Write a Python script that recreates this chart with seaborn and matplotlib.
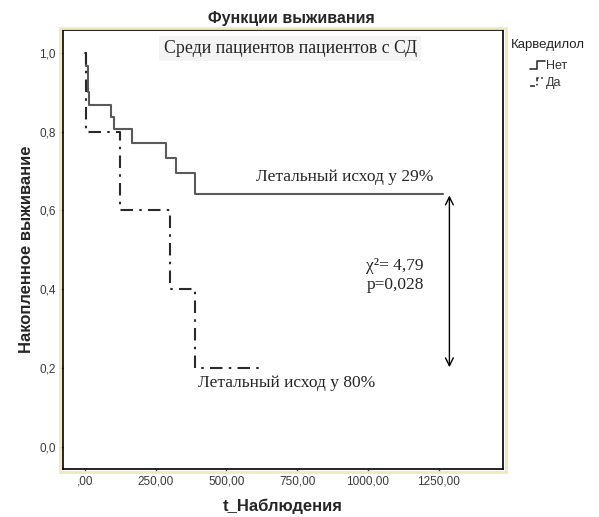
import matplotlib
matplotlib.use("Agg")
import matplotlib.pyplot as plt
import matplotlib.patches as mpatches
from matplotlib.lines import Line2D
from matplotlib.legend_handler import HandlerBase
import seaborn as sns
import pandas as pd

# Data
groups = ["Нет", "Да"]
t_net = [0, 4, 9, 14, 92, 103, 166, 286, 322, 389, 1266]
s_net = [1.0, 0.967, 0.90, 0.867, 0.838, 0.806, 0.772, 0.734, 0.694, 0.643, 0.643]
t_da = [0, 5, 124, 300, 389, 636]
s_da = [1.0, 0.8, 0.6, 0.4, 0.2, 0.2]
x_ticks = [0, 250, 500, 750, 1000, 1250]
x_labels = [",00", "250,00", "500,00", "750,00", "1000,00", "1250,00"]
y_ticks = [0.0, 0.2, 0.4, 0.6, 0.8, 1.0]
y_labels = ["0,0", "0,2", "0,4", "0,6", "0,8", "1,0"]

df = pd.DataFrame({
    "t": t_net + t_da,
    "s": s_net + s_da,
    "g": [groups[0]] * len(t_net) + [groups[1]] * len(t_da),
})

sns.set_theme(style="white")
plt.rcParams["font.family"] = ["Liberation Sans", "DejaVu Sans"]

fig = plt.figure(figsize=(5.99, 5.17), dpi=100)
fig.patch.set_facecolor("white")
ax = fig.add_axes([0.105, 0.093, 0.735, 0.849])

# pale yellow outer frame
fig.patches.append(mpatches.Rectangle((0.101, 0.088), 0.743, 0.858, transform=fig.transFigure,
                                      fill=False, edgecolor="#f1e8bd", linewidth=2, zorder=0))

sns.lineplot(data=df, x="t", y="s", hue="g", style="g", estimator=None,
             palette={"Нет": "#5a5a5a", "Да": "#2a2a2a"},
             dashes={"Нет": "", "Да": (6, 3, 1.2, 3)},
             drawstyle="steps-post", linewidth=1.5, legend=False, ax=ax)

ax.set_xlim(-78, 1478)
ax.set_ylim(-0.056, 1.058)
ax.set_xticks(x_ticks)
ax.set_xticklabels(x_labels, fontsize=8.5, color="#3a3a3a")
ax.set_yticks(y_ticks)
ax.set_yticklabels(y_labels, fontsize=8.5, color="#3a3a3a")
ax.tick_params(axis="both", direction="out", length=3, width=1, color="#444444", pad=2,
               bottom=True, left=True)
for sp in ax.spines.values():
    sp.set_color("black")
    sp.set_linewidth(1.2)

ax.set_xlabel("t_Наблюдения", fontsize=12, fontweight="bold", labelpad=8)
ax.set_ylabel("Накопленное выживание", fontsize=12, fontweight="bold", labelpad=4)
fig.text(0.486, 0.965, "Функции выживания", fontsize=11.5, fontweight="bold",
         ha="center", va="center")

serif = ["Liberation Serif", "DejaVu Serif"]
ax.text(725, 1.010, "Среди пациентов пациентов с СД", family=serif, fontsize=12.8,
        ha="center", va="center",
        bbox=dict(facecolor="#f4f4f4", edgecolor="none", pad=3))
ax.text(918, 0.686, "Летальный исход у 29%", family=serif, fontsize=12.5,
        ha="center", va="center")
ax.text(711, 0.162, "Летальный исход у 80%", family=serif, fontsize=12.5,
        ha="center", va="center")
ax.text(1096, 0.435, "χ²= 4,79\np=0,028", family=serif, fontsize=12.5,
        ha="center", va="center", linespacing=1.25)

ax.annotate("", xy=(1288, 0.645), xytext=(1288, 0.195),
            arrowprops=dict(arrowstyle="<->", color="black", lw=1, mutation_scale=14))


class StepHandler(HandlerBase):
    def __init__(self, dashes=None, color="black"):
        super().__init__()
        self.dashes = dashes
        self.color = color

    def create_artists(self, legend, orig_handle, xdescent, ydescent, width, height, fontsize, trans):
        xs = [0, width * 0.5, width * 0.5, width]
        ys = [0, 0, height, height]
        ln = Line2D(xs, ys, color=self.color, lw=1.2, transform=trans)
        if self.dashes:
            ln.set_dashes(self.dashes)
        return [ln]


fig.text(0.853, 0.913, "Карведилол", fontsize=9.5, color="#222222", ha="left", va="center")
h_net = Line2D([], [], color="#333333")
h_da = Line2D([], [], color="#333333")
leg = fig.legend([h_net, h_da], groups, loc="upper left",
                 bbox_to_anchor=(0.872, 0.898), frameon=False, fontsize=9,
                 handlelength=1.2, handleheight=0.6, handletextpad=0.1,
                 labelspacing=0.4, borderpad=0.1,
                 handler_map={h_net: StepHandler(color="#333333"),
                              h_da: StepHandler(dashes=(3, 1.5, 1, 1.5), color="#333333")})
for t in leg.get_texts():
    t.set_color("#333333")

fig.savefig("out.png", dpi=100)
